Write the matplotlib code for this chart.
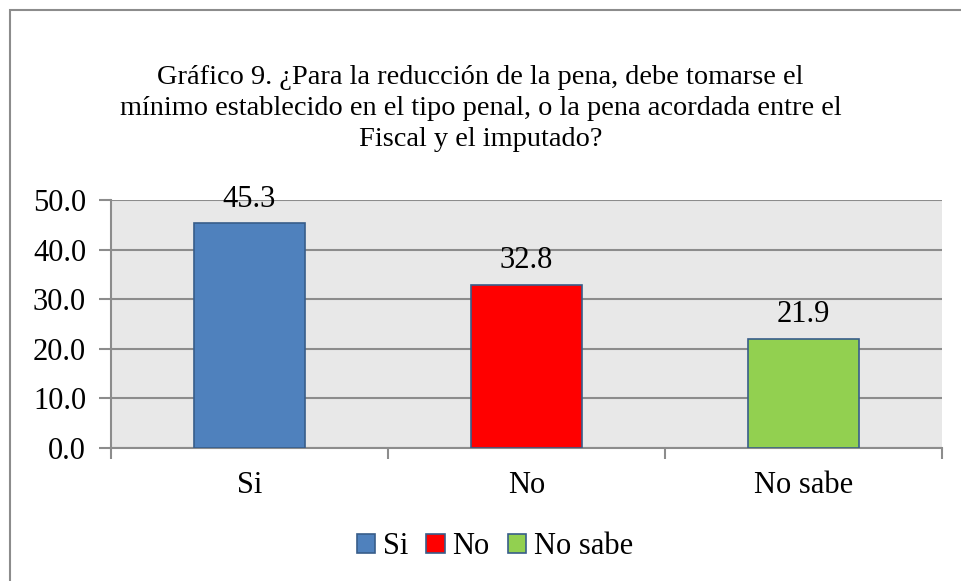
import numpy as np
import matplotlib.pyplot as plt
from matplotlib.patches import Rectangle

categories = ["Si", "No", "No sabe"]
values = [45.3, 32.8, 21.9]
colors = ["#4F81BD", "#FF0000", "#92D050"]
title = ("Gráfico 9. ¿Para la reducción de la pena, debe tomarse el\n"
         "mínimo establecido en el tipo penal, o la pena acordada entre el\n"
         "Fiscal y el imputado?")

plt.rcParams['font.family'] = ['Liberation Serif', 'DejaVu Serif']

fig = plt.figure(figsize=(9.61, 5.81), dpi=100)
fig.patches.append(Rectangle((10/961, -0.1), 1.2, 1 - 10/581 + 0.1, transform=fig.transFigure,
                             fill=False, edgecolor="#8C8C8C", linewidth=1.5))

ax = fig.add_axes([111/961, 1 - 447.7/581, (942 - 111)/961, (447.7 - 200)/581])
ax.set_facecolor("#E8E8E8")
x = np.arange(len(categories))
bars = ax.bar(x, values, width=0.4, color=colors, edgecolor="#385D8A", linewidth=1.2,
              label=categories, zorder=3)
for xi, v in zip(x, values):
    ax.annotate("%.1f" % v, (xi, v), xytext=(0, 7), textcoords="offset points",
                ha="center", va="bottom", fontsize=22)

ax.set_xlim(-0.5, 2.5)
ax.set_ylim(0, 50)
ax.set_yticks(np.arange(0, 51, 10))
ax.set_yticklabels(["%.1f" % t for t in np.arange(0, 51, 10)], fontsize=22)
ax.yaxis.grid(True, color="#8C8C8C", linewidth=1.5, zorder=0)
ax.set_axisbelow(True)
ax.set_xticks(x)
ax.set_xticklabels(categories, fontsize=22)
ax.tick_params(axis="x", which="major", length=0, pad=17)
ax.set_xticks([-0.5, 0.5, 1.5, 2.5], minor=True)
ax.tick_params(axis="x", which="minor", length=8, width=1.5, color="#8C8C8C", direction="out")
ax.tick_params(axis="y", length=9, width=1.5, color="#8C8C8C", pad=9)
for s in ["top", "right"]:
    ax.spines[s].set_visible(False)
for s in ["left", "bottom"]:
    ax.spines[s].set_color("#8C8C8C")
    ax.spines[s].set_linewidth(1.5)

fig.text(0.5, 1 - 65/581, title, ha="center", va="top", fontsize=20.4, linespacing=1.31)

fig.legend(handles=bars.patches, labels=categories, loc="center", bbox_to_anchor=(0.515, 1 - 547/581),
           ncol=3, frameon=False, fontsize=22, handlelength=0.6, handleheight=0.6,
           handletextpad=0.25, columnspacing=0.6)

fig.savefig("out.png", dpi=100)
